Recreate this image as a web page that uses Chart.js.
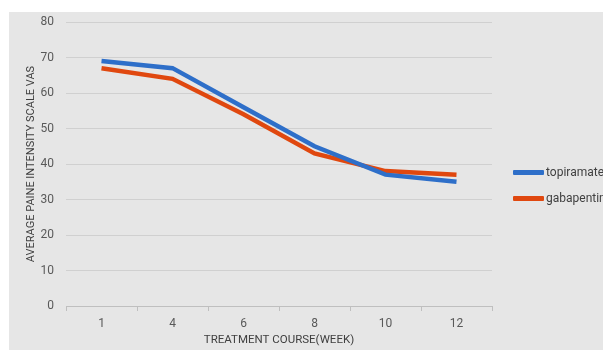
<!DOCTYPE html>
<html lang="en">
<head>
    <meta charset="UTF-8">
    <script src="https://cdn.jsdelivr.net/npm/chart.js"></script>
    <title>Pain intensity</title>
    <style>
        body, html {
            margin: 0;
            background: #ffffff;
            overflow: hidden;
            font-family: Roboto, Arial, sans-serif;
        }
        #chart-box {
            position: absolute;
            left: 9px;
            top: 12px;
            width: 594px;
            height: 338px;
            background: #e6e6e6;
        }
        #legend {
            position: absolute;
            left: 504px;
            top: 147px;
            font-size: 12px;
            color: #404040;
            white-space: nowrap;
        }
        .legend-item {
            height: 26px;
            display: flex;
            align-items: center;
        }
        .legend-line {
            display: inline-block;
            width: 31px;
            height: 5px;
            margin-right: 2px;
            border-radius: 1px;
        }
    </style>
</head>
<body>
    <div id="chart-box">
        <canvas id="lineChart"></canvas>
        <div id="legend"></div>
    </div>
    <script>
        // weeks on the x axis
        const weeks = ["1", "4", "6", "8", "10", "12"];
        const topiramate = [69, 67, 56, 45, 37, 35];
        const gabapentin = [67, 64, 54, 43, 38, 37];
        const seriesNames = ["topiramate", "gabapentin"];
        const seriesColors = ["#2e6fc9", "#e0480f"];
        const yTicks = [0, 10, 20, 30, 40, 50, 60, 70, 80];

        // legend drawn as html so it can run off the right edge like the original
        let legendHtml = "";
        seriesNames.forEach(function (name, i) {
            legendHtml += '<div class="legend-item"><span class="legend-line" style="background:' +
                seriesColors[i] + '"></span>' + name + '</div>';
        });
        document.getElementById("legend").innerHTML = legendHtml;

        const ctx = document.getElementById("lineChart").getContext("2d");
        new Chart(ctx, {
            type: "line",
            data: {
                labels: weeks,
                datasets: [{
                    label: seriesNames[0],
                    data: topiramate,
                    borderColor: seriesColors[0],
                    borderWidth: 4.5,
                    pointRadius: 0,
                    tension: 0
                }, {
                    label: seriesNames[1],
                    data: gabapentin,
                    borderColor: seriesColors[1],
                    borderWidth: 4.5,
                    pointRadius: 0,
                    tension: 0
                }]
            },
            options: {
                responsive: true,
                maintainAspectRatio: false,
                animation: false,
                layout: { padding: { top: 10, bottom: 3, left: 0, right: 111 } },
                plugins: {
                    tooltip: { enabled: false },
                    legend: { display: false }
                },
                scales: {
                    x: {
                        offset: true,
                        afterFit: function (scale) {
                            scale.height = 41;
                        },
                        grid: {
                            display: true,
                            offset: true,
                            drawOnChartArea: false,
                            drawTicks: true,
                            tickLength: 5,
                            color: "#bfbfbf"
                        },
                        border: { color: "#bfbfbf" },
                        ticks: {
                            color: "#595959",
                            font: { family: "Roboto", size: 12 },
                            padding: 6
                        },
                        title: {
                            display: true,
                            text: "TREATMENT COURSE(WEEK)",
                            color: "#404040",
                            font: { family: "Roboto", size: 11.5 },
                            padding: { top: 0, bottom: 0 }
                        }
                    },
                    y: {
                        min: yTicks[0],
                        max: yTicks[yTicks.length - 1],
                        afterFit: function (scale) {
                            scale.width = 57;
                            scale.paddingTop = 0;
                        },
                        grid: {
                            color: "#d0d0d0",
                            drawTicks: false
                        },
                        border: { display: false },
                        ticks: {
                            stepSize: 10,
                            color: "#595959",
                            font: { family: "Roboto", size: 12 },
                            padding: 12
                        },
                        title: {
                            display: true,
                            text: "AVERAGE PAINE INTENSITY SCALE VAS",
                            color: "#404040",
                            font: { family: "Roboto", size: 11 },
                            padding: { top: 16, bottom: 0 }
                        }
                    }
                }
            }
        });
    </script>
</body>
</html>
